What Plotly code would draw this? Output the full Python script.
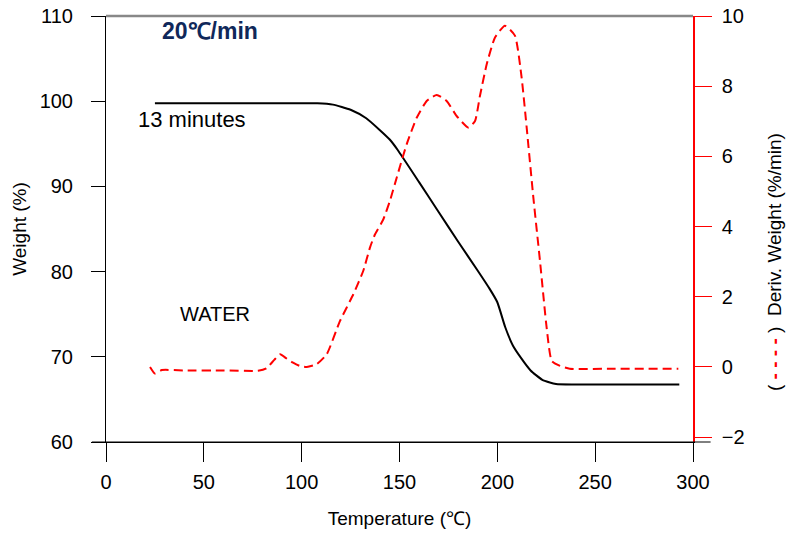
import plotly.graph_objects as go

# Weight curve (left axis)
temp_w = [25, 60, 90, 108, 116, 125, 133, 140, 145, 149, 160, 170, 180, 190, 196,
          200, 204, 208, 212, 217, 223, 230, 240, 293]
weight = [99.75, 99.75, 99.75, 99.75, 99.6, 99.0, 98.0, 96.6, 95.5, 94.3, 90.5, 87.0,
          83.5, 80.1, 78.0, 76.4, 73.5, 71.3, 69.9, 68.4, 67.3, 66.8, 66.75, 66.75]

# Derivative weight curve (right axis)
temp_d = [22.5, 25, 28.5, 40, 60, 77.7, 82, 86, 89, 92, 95.6, 99, 102.6, 107.7, 112.8,
          119.6, 126.4, 131.5, 134.9, 137.5, 141.7, 145.1, 148.6, 153.7, 158.8, 163.9,
          169, 174.1, 179.2, 185.2, 188.6, 191.1, 194.6, 198.8, 203.9, 209, 212.4, 215,
          218.4, 221.8, 225.2, 227.8, 232, 237, 260, 292.5]
deriv = [0.0, -0.19, -0.09, -0.1, -0.1, -0.11, -0.04, 0.2, 0.36, 0.25, 0.12, 0.03, 0.0,
         0.08, 0.36, 1.31, 2.07, 2.74, 3.4, 3.78, 4.2, 4.73, 5.4, 6.35, 7.1, 7.58, 7.75,
         7.58, 7.15, 6.82, 7.01, 7.72, 8.63, 9.39, 9.72, 9.44, 8.25, 6.82, 4.83, 3.02,
         1.12, 0.17, 0.03, -0.05, -0.05, -0.05]

x_ticks = [0, 50, 100, 150, 200, 250, 300]
y_ticks = [60, 70, 80, 90, 100, 110]
y2_ticks = [-2, 0, 2, 4, 6, 8, 10]

FONT = "Liberation Sans, Arial, sans-serif"

fig = go.Figure()
fig.add_trace(go.Scatter(x=temp_w, y=weight, mode="lines",
                         line=dict(color="black", width=2, shape="spline", smoothing=0.5),
                         hoverinfo="skip"))
fig.add_trace(go.Scatter(x=temp_d, y=deriv, mode="lines", yaxis="y2",
                         line=dict(color="#ff0000", width=2, dash="9px,5px",
                                   shape="spline", smoothing=0.5),
                         hoverinfo="skip"))

fig.update_layout(
    width=790, height=535,
    margin=dict(l=106, r=97, t=16, b=93, autoexpand=False),
    paper_bgcolor="white", plot_bgcolor="white",
    showlegend=False,
    font=dict(family=FONT, size=20, color="black"),
    xaxis=dict(range=[0, 300], tickvals=x_ticks, ticks="outside", ticklen=19,
               tickcolor="black", showline=True, linecolor="black", linewidth=1,
               showgrid=False, zeroline=False, ticklabelstandoff=3, automargin=False,
               title=dict(text="Temperature (℃)", standoff=19,
                          font=dict(size=19))),
    yaxis=dict(range=[60, 110], tickvals=y_ticks, ticks="outside", ticklen=14,
               tickcolor="black", showline=True, linecolor="black", linewidth=1,
               showgrid=False, zeroline=False, ticklabelstandoff=14, automargin=False,
               title=dict(text="Weight (%)", standoff=7, font=dict(size=19))),
    yaxis2=dict(range=[-2.14, 10], tickvals=y2_ticks, overlaying="y", side="right",
                ticks="outside", ticklen=17, tickcolor="#ff0000", showline=True,
                linecolor="#ff0000", linewidth=1.5, showgrid=False, zeroline=False,
                ticklabelstandoff=6, tickfont=dict(color="black"), automargin=False),
    shapes=[
        dict(type="line", xref="paper", yref="paper", x0=0, x1=1, y0=1, y1=1,
             line=dict(color="#888888", width=2.5)),
        dict(type="line", xref="paper", yref="paper", x0=-0.024, x1=1.03, y0=0, y1=0,
             line=dict(color="black", width=1)),
    ],
    annotations=[
        dict(text="<b>20℃/min</b>", x=210, y=31, showarrow=False,
             font=dict(size=23, color="#10285a")),
        dict(text="13 minutes", x=192, y=120, showarrow=False, font=dict(size=22)),
        dict(text="WATER", x=215, y=314, showarrow=False, font=dict(size=20)),
        dict(text="(&nbsp;<span style='color:#ff0000'><b>- - - -</b></span>&nbsp;)&nbsp;&nbsp;Deriv. Weight (%/min)",
             x=774, y=262, textangle=-90, showarrow=False, font=dict(size=19)),
    ],
)

# place the text annotations in pixel terms via paper fractions
W, H = 790, 535
L, R, T, B = 106, 97, 16, 93
pw, ph = W - L - R, H - T - B
for a in fig.layout.annotations:
    a.xref = "paper"
    a.yref = "paper"
    a.x = (a.x - L) / pw
    a.y = 1 - (a.y - T) / ph
    a.xanchor = "center"
    a.yanchor = "middle"

fig.write_html("out.html")
